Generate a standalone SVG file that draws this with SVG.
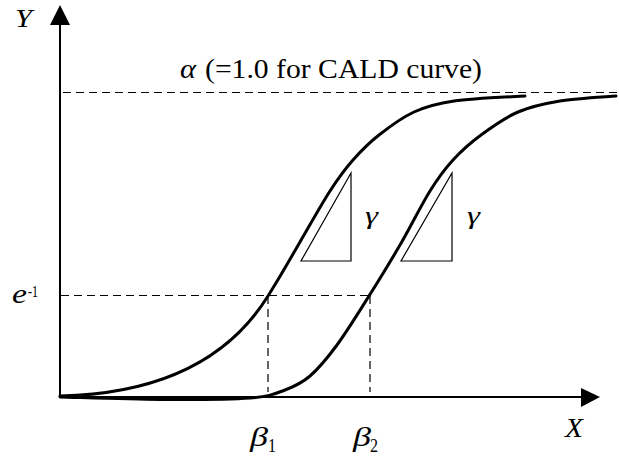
<svg xmlns="http://www.w3.org/2000/svg" width="619" height="457" viewBox="0 0 619 457">
<style>
.axis{stroke:#000;stroke-width:2;fill:none}
.curve{stroke:#000;stroke-width:3;fill:none;stroke-linecap:round}
.dash{stroke:#000;stroke-width:1.2;fill:none;stroke-dasharray:8 5}
.tri{stroke:#000;stroke-width:1.2;fill:#fff}
text{font-family:'Liberation Serif','Times New Roman',serif;fill:#000}
.it{font-style:italic}
</style>
<rect width="619" height="457" fill="#fff"/>
<g id="connectors">
<line class="dash" x1="63" y1="92.5" x2="618" y2="92.5"/>
<line class="dash" x1="61" y1="295.5" x2="370" y2="295.5"/>
<line class="dash" x1="268" y1="296" x2="268" y2="392"/>
<line class="dash" x1="370" y1="296" x2="370" y2="392"/>
</g>
<g id="axes">
<line class="axis" x1="60" y1="24" x2="60" y2="398"/>
<line class="axis" x1="59" y1="397" x2="582" y2="397"/>
<polygon points="60,5 50,25 70,25" fill="#000"/>
<polygon points="600,397 581,388 581,407" fill="#000"/>
</g>
<g id="curve1">
<path class="curve" d="M60,396 C150,394 225,365 268,296 C281.2,275 289.7,259.7 300,242 C310.3,224.3 321.2,204.7 330,191 C338.8,177.3 344.8,169.3 353,160 C361.2,150.7 368.8,143 379,135 C389.2,127 401.5,117.7 414,112 C426.5,106.3 435.5,103.7 454,101 C472.5,98.3 513.2,96.8 525,96"/>
</g>
<g id="curve2">
<path class="curve" d="M60,397 C76.7,397.4 128.3,399.3 160,399.5 C191.7,399.7 229.2,399.6 250,398 C270.8,396.4 275,393.7 285,390 C295,386.3 301.3,383.5 310,376 C318.7,368.5 327.2,358.3 337,345 C346.8,331.7 358.5,312.7 369,296 C379.5,279.3 389.8,262.5 400,245 C410.2,227.5 421.2,205.2 430,191 C438.8,176.8 444.5,169.3 453,160 C461.5,150.7 470.2,143 481,135 C491.8,127 504.8,117.7 518,112 C531.2,106.3 543.7,103.7 560,101 C576.3,98.3 606.7,96.8 616,96"/>
</g>
<g id="triangle1">
<polygon class="tri" points="301,261 351,261 351,173"/>
<text class="it" x="365" y="224" font-size="25" textLength="13" lengthAdjust="spacingAndGlyphs">γ</text>
</g>
<g id="triangle2">
<polygon class="tri" points="401,261 452,261 452,173"/>
<text class="it" x="467" y="224" font-size="25" textLength="13" lengthAdjust="spacingAndGlyphs">γ</text>
</g>
<g id="label-y">
<text class="it" x="15" y="27" font-size="26" textLength="17" lengthAdjust="spacingAndGlyphs">Y</text>
</g>
<g id="label-x">
<text class="it" x="565" y="437" font-size="28" textLength="18" lengthAdjust="spacingAndGlyphs">X</text>
</g>
<g id="label-alpha">
<text class="it" x="180" y="78" font-size="27" textLength="16" lengthAdjust="spacingAndGlyphs">α</text>
<text x="205" y="78" font-size="27" textLength="277" lengthAdjust="spacingAndGlyphs">(=1.0 for CALD curve)</text>
</g>
<g id="label-e">
<text class="it" x="12" y="303" font-size="27" textLength="15" lengthAdjust="spacingAndGlyphs">e</text>
<text x="28" y="297" font-size="17" textLength="10" lengthAdjust="spacingAndGlyphs">-1</text>
</g>
<g id="label-beta1">
<text class="it" x="250" y="446" font-size="28" textLength="18" lengthAdjust="spacingAndGlyphs">β</text>
<text x="268" y="452" font-size="18" textLength="8" lengthAdjust="spacingAndGlyphs">1</text>
</g>
<g id="label-beta2">
<text class="it" x="353" y="446" font-size="28" textLength="18" lengthAdjust="spacingAndGlyphs">β</text>
<text x="370" y="452" font-size="18" textLength="8" lengthAdjust="spacingAndGlyphs">2</text>
</g>
</svg>
